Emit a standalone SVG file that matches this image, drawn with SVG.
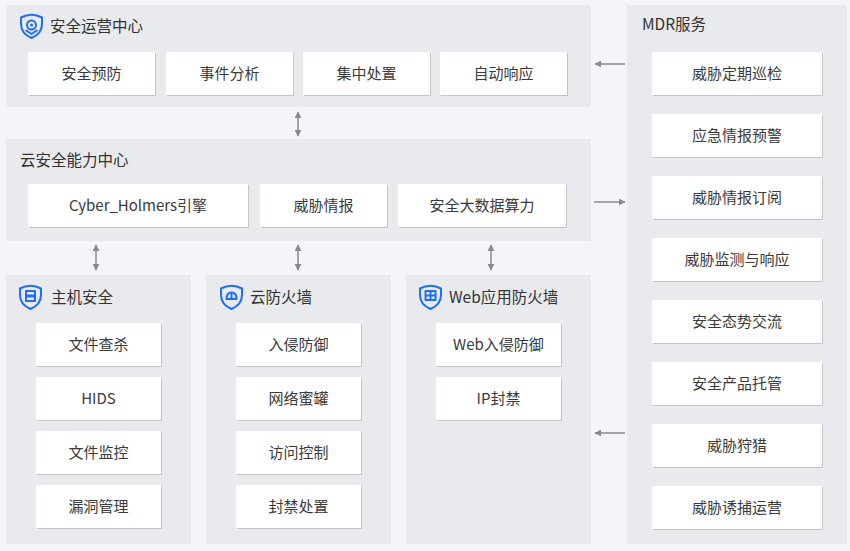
<svg xmlns="http://www.w3.org/2000/svg" width="850" height="551" viewBox="0 0 850 551">
<defs>
<style>
.bg{fill:#f4f5f9}
.panel{fill:#e9eaed}
.box{fill:#ffffff}
.sh{fill:#c4c5c8}
.t{font-family:"Noto Sans CJK SC","Liberation Sans",sans-serif;font-size:15px;fill:#3a3a3a}
.h{font-size:15.5px;fill:#333333}
.c{text-anchor:middle}
.ic{fill:none;stroke:#1f6ef5;stroke-width:2;stroke-linejoin:round}
.ln{stroke:#8a8a8a;stroke-width:1.5;fill:none}
</style>
<marker id="ah" viewBox="0 0 10 10" refX="9" refY="5" markerWidth="7" markerHeight="7" orient="auto-start-reverse" markerUnits="userSpaceOnUse">
<path d="M0,0 L10,5 L0,10 Z" fill="#8a8a8a"/>
</marker>
<path id="shield" d="M1,4.5 Q11.5,-1 22,4.5 L22,11 Q22,20.5 11.5,25 Q1,20.5 1,11 Z"/>
</defs>
<rect class="bg" x="0" y="0" width="850" height="551"/>

<g id="soc">
<rect class="panel" x="6" y="5" width="585" height="102"/>
<g transform="translate(20,13)">
<use href="#shield" class="ic"/>
<circle cx="11.5" cy="12" r="4.5" class="ic"/>
<circle cx="11.5" cy="12" r="1.5" fill="#1f6ef5"/>
<path d="M5.5,17 L11.5,21 L17.5,17" class="ic"/>
</g>
<text class="t h" x="50" y="32">安全运营中心</text>
<rect class="sh" x="29" y="53" width="127" height="43"/><rect class="box" x="28" y="52" width="127" height="43"/>
<text class="t c" x="91.5" y="79">安全预防</text>
<rect class="sh" x="167" y="53" width="127" height="43"/><rect class="box" x="166" y="52" width="127" height="43"/>
<text class="t c" x="229.5" y="79">事件分析</text>
<rect class="sh" x="304" y="53" width="127" height="43"/><rect class="box" x="303" y="52" width="127" height="43"/>
<text class="t c" x="366.5" y="79">集中处置</text>
<rect class="sh" x="441" y="53" width="127" height="43"/><rect class="box" x="440" y="52" width="127" height="43"/>
<text class="t c" x="503.5" y="79">自动响应</text>
</g>

<g id="cap">
<rect class="panel" x="6" y="139" width="585" height="102"/>
<text class="t h" x="20" y="166">云安全能力中心</text>
<rect class="sh" x="29" y="185" width="220" height="43"/><rect class="box" x="28" y="184" width="220" height="43"/>
<text class="t c" x="138" y="211">Cyber_Holmers引擎</text>
<rect class="sh" x="261" y="185" width="127" height="43"/><rect class="box" x="260" y="184" width="127" height="43"/>
<text class="t c" x="323.5" y="211">威胁情报</text>
<rect class="sh" x="399" y="185" width="168" height="43"/><rect class="box" x="398" y="184" width="168" height="43"/>
<text class="t c" x="482" y="211">安全大数据算力</text>
</g>

<g id="host">
<rect class="panel" x="6" y="275" width="185" height="269"/>
<g transform="translate(19,284)">
<use href="#shield" class="ic"/>
<rect x="7" y="7" width="9" height="4.5" class="ic" stroke-width="1.5"/>
<rect x="7" y="12.5" width="9" height="4.5" class="ic" stroke-width="1.5"/>
</g>
<text class="t h" x="51" y="303">主机安全</text>
<rect class="sh" x="37" y="324" width="125" height="43"/><rect class="box" x="36" y="323" width="125" height="43"/>
<text class="t c" x="98.5" y="350">文件查杀</text>
<rect class="sh" x="37" y="378" width="125" height="43"/><rect class="box" x="36" y="377" width="125" height="43"/>
<text class="t c" x="98.5" y="404">HIDS</text>
<rect class="sh" x="37" y="432" width="125" height="43"/><rect class="box" x="36" y="431" width="125" height="43"/>
<text class="t c" x="98.5" y="458">文件监控</text>
<rect class="sh" x="37" y="486" width="125" height="43"/><rect class="box" x="36" y="485" width="125" height="43"/>
<text class="t c" x="98.5" y="512">漏洞管理</text>
</g>

<g id="cfw">
<rect class="panel" x="206" y="275" width="185" height="269"/>
<g transform="translate(220,284)">
<use href="#shield" class="ic"/>
<path d="M6.5,15 Q6.5,8.5 11.5,8.5 Q16.5,8.5 16.5,15 Z" class="ic" stroke-width="1.5"/>
<path d="M6.5,15 L16.5,15 M11.5,9 L11.5,15" class="ic" stroke-width="1.2"/>
</g>
<text class="t h" x="250" y="303">云防火墙</text>
<rect class="sh" x="237" y="324" width="125" height="43"/><rect class="box" x="236" y="323" width="125" height="43"/>
<text class="t c" x="298.5" y="350">入侵防御</text>
<rect class="sh" x="237" y="378" width="125" height="43"/><rect class="box" x="236" y="377" width="125" height="43"/>
<text class="t c" x="298.5" y="404">网络蜜罐</text>
<rect class="sh" x="237" y="432" width="125" height="43"/><rect class="box" x="236" y="431" width="125" height="43"/>
<text class="t c" x="298.5" y="458">访问控制</text>
<rect class="sh" x="237" y="486" width="125" height="43"/><rect class="box" x="236" y="485" width="125" height="43"/>
<text class="t c" x="298.5" y="512">封禁处置</text>
</g>

<g id="waf">
<rect class="panel" x="406" y="275" width="185" height="269"/>
<g transform="translate(419,284)">
<use href="#shield" class="ic"/>
<rect x="6.5" y="7" width="10" height="9" class="ic" stroke-width="1.4"/>
<path d="M11.5,7 L11.5,16 M6.5,11.5 L16.5,11.5" class="ic" stroke-width="1.2"/>
</g>
<text class="t h" x="449" y="303">Web应用防火墙</text>
<rect class="sh" x="437" y="324" width="125" height="43"/><rect class="box" x="436" y="323" width="125" height="43"/>
<text class="t c" x="498.5" y="350">Web入侵防御</text>
<rect class="sh" x="437" y="378" width="125" height="43"/><rect class="box" x="436" y="377" width="125" height="43"/>
<text class="t c" x="498.5" y="404">IP封禁</text>
</g>

<g id="mdr">
<rect class="panel" x="627" y="5" width="220" height="539"/>
<text class="t h" x="642" y="30">MDR服务</text>
<rect class="sh" x="653" y="53" width="170" height="43"/><rect class="box" x="652" y="52" width="170" height="43"/>
<text class="t c" x="737" y="79">威胁定期巡检</text>
<rect class="sh" x="653" y="115" width="170" height="43"/><rect class="box" x="652" y="114" width="170" height="43"/>
<text class="t c" x="737" y="141">应急情报预警</text>
<rect class="sh" x="653" y="177" width="170" height="43"/><rect class="box" x="652" y="176" width="170" height="43"/>
<text class="t c" x="737" y="203">威胁情报订阅</text>
<rect class="sh" x="653" y="239" width="170" height="43"/><rect class="box" x="652" y="238" width="170" height="43"/>
<text class="t c" x="737" y="265">威胁监测与响应</text>
<rect class="sh" x="653" y="301" width="170" height="43"/><rect class="box" x="652" y="300" width="170" height="43"/>
<text class="t c" x="737" y="327">安全态势交流</text>
<rect class="sh" x="653" y="363" width="170" height="43"/><rect class="box" x="652" y="362" width="170" height="43"/>
<text class="t c" x="737" y="389">安全产品托管</text>
<rect class="sh" x="653" y="425" width="170" height="43"/><rect class="box" x="652" y="424" width="170" height="43"/>
<text class="t c" x="737" y="451">威胁狩猎</text>
<rect class="sh" x="653" y="487" width="170" height="43"/><rect class="box" x="652" y="486" width="170" height="43"/>
<text class="t c" x="737" y="513">威胁诱捕运营</text>
</g>

<g id="connectors">
<line class="ln" x1="298" y1="112" x2="298" y2="136" marker-start="url(#ah)" marker-end="url(#ah)"/>
<line class="ln" x1="96" y1="245" x2="96" y2="270" marker-start="url(#ah)" marker-end="url(#ah)"/>
<line class="ln" x1="298" y1="245" x2="298" y2="270" marker-start="url(#ah)" marker-end="url(#ah)"/>
<line class="ln" x1="491" y1="245" x2="491" y2="270" marker-start="url(#ah)" marker-end="url(#ah)"/>
<line class="ln" x1="625" y1="64" x2="595" y2="64" marker-end="url(#ah)"/>
<line class="ln" x1="594" y1="202" x2="625" y2="202" marker-end="url(#ah)"/>
<line class="ln" x1="625" y1="433" x2="595" y2="433" marker-end="url(#ah)"/>
</g>
</svg>
